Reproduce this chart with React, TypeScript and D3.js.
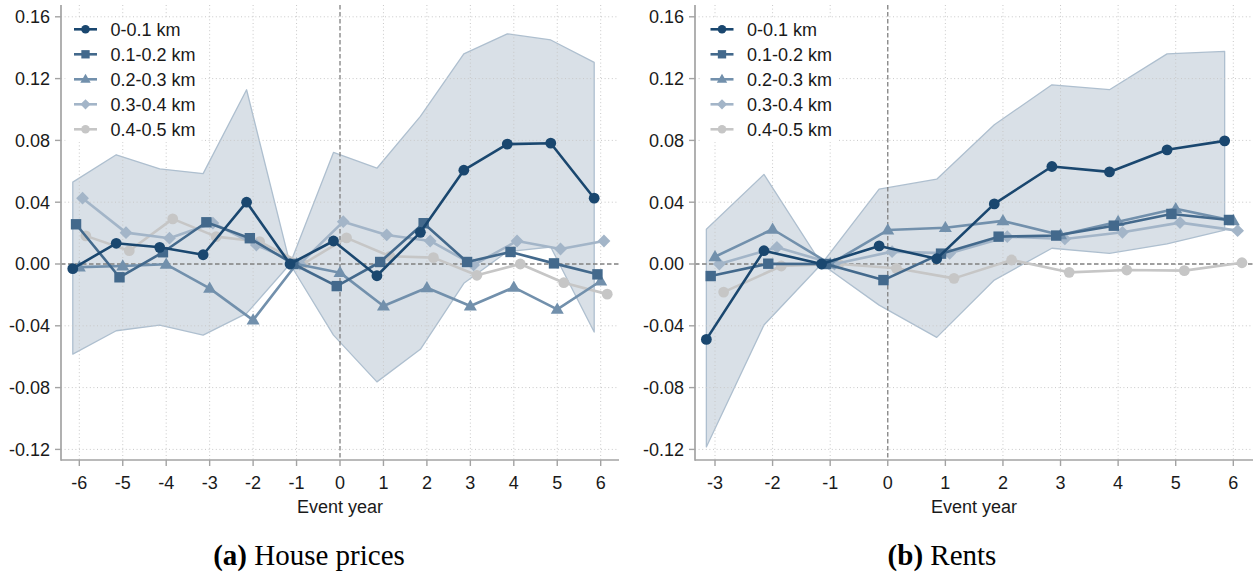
import React from "react";
import * as d3 from "d3";

// ---------------- DATA ----------------
const seriesNames = ["0-0.1 km", "0.1-0.2 km", "0.2-0.3 km", "0.3-0.4 km", "0.4-0.5 km"];

// (a) House prices
const houseYears = [-6, -5, -4, -3, -2, -1, 0, 1, 2, 3, 4, 5, 6];
const house01 = [-0.003, 0.0134, 0.0108, 0.006, 0.04, 0, 0.0149, -0.0076, 0.0205, 0.0607, 0.0776, 0.0782, 0.0426];
const house12 = [0.0257, -0.0086, 0.0076, 0.027, 0.0167, 0, -0.0143, 0.0013, 0.0264, 0.0013, 0.0078, 0.0004, -0.0067];
const house23 = [-0.002, -0.0013, -0.0002, -0.0158, -0.0363, 0, -0.0056, -0.0272, -0.0154, -0.0272, -0.0151, -0.0294, -0.011];
const house34 = [0.0426, 0.0203, 0.0167, 0.0265, 0.0123, 0, 0.0274, 0.0188, 0.0149, -0.0006, 0.0149, 0.0097, 0.0149];
const house45 = [0.0182, 0.0086, 0.0292, 0.0177, 0.0145, 0, 0.0169, 0.005, 0.0041, -0.0073, 0, -0.0121, -0.0195];
const houseUpper = [0.053, 0.0707, 0.0616, 0.0585, 0.1128, 0, 0.0722, 0.062, 0.0955, 0.136, 0.149, 0.145, 0.1305];
const houseLower = [-0.0583, -0.0432, -0.0396, -0.046, -0.032, 0, -0.046, -0.0763, -0.0552, -0.0125, 0.008, 0.011, -0.044];
const houseXTickLabels = ["-6", "-5", "-4", "-3", "-2", "-1", "0", "1", "2", "3", "4", "5", "6"];

// (b) Rents
const rentYears = [-3, -2, -1, 0, 1, 2, 3, 4, 5, 6];
const rent01 = [-0.0488, 0.0086, 0, 0.0117, 0.0034, 0.0389, 0.0631, 0.0596, 0.0739, 0.0797];
const rent12 = [-0.0078, 0.0002, 0, -0.0104, 0.0067, 0.0177, 0.0184, 0.0248, 0.0324, 0.0285];
const rent23 = [0.0047, 0.0225, 0, 0.022, 0.0235, 0.0279, 0.0188, 0.0274, 0.0357, 0.0279];
const rent34 = [0.0, 0.0108, 0, 0.008, 0.0069, 0.0177, 0.0162, 0.0205, 0.0268, 0.0216];
const rent45 = [-0.0182, -0.0013, 0, -0.0028, -0.0093, 0.0026, -0.0054, -0.0039, -0.0043, 0.0008];
const rentUpper = [0.0225, 0.058, 0, 0.0484, 0.0549, 0.0901, 0.116, 0.1128, 0.136, 0.1376];
const rentLower = [-0.1184, -0.0395, 0, -0.0266, -0.0475, -0.0104, 0.0102, 0.0069, 0.013, 0.022];
const rentXTickLabels = ["-3", "-2", "-1", "0", "1", "2", "3", "4", "5", "6"];

const yTicks = [-0.12, -0.08, -0.04, 0, 0.04, 0.08, 0.12, 0.16];
const yTickLabels = ["-0.12", "-0.08", "-0.04", "0.00", "0.04", "0.08", "0.12", "0.16"];

const xAxisTitle = "Event year";

// ---------------- STYLE ----------------
const colors = ["#1a476f", "#43698c", "#7290ac", "#a3b5c8", "#c6c6c6"];
const shapes = ["circle", "square", "triangle", "diamond", "circle"];
const jitter = [-0.15, -0.075, 0, 0.075, 0.15];
const FONT = "'Liberation Sans', Arial, Helvetica, sans-serif";
const AXIS_COLOR = "#a3a3a3";
const GRID_COLOR = "#c8c8c8";

type Shape = string;

function Marker({ shape, x, y, color, scale = 1 }: { shape: Shape; x: number; y: number; color: string; scale?: number }) {
  if (shape === "circle") return <circle cx={x} cy={y} r={5.4 * scale} fill={color} />;
  if (shape === "square") {
    const s = 10.4 * scale;
    return <rect x={x - s / 2} y={y - s / 2} width={s} height={s} fill={color} />;
  }
  if (shape === "triangle") {
    const w = 6.5 * scale;
    return <path d={`M${x},${y - 6.8 * scale}L${x + w},${y + 4.4 * scale}L${x - w},${y + 4.4 * scale}Z`} fill={color} />;
  }
  const d = 6.4 * scale;
  return <path d={`M${x},${y - d}L${x + d},${y}L${x},${y + d}L${x - d},${y}Z`} fill={color} />;
}

interface PanelProps {
  years: number[];
  series: number[][];
  upper: number[];
  lower: number[];
  xTickLabels: string[];
  axisLeft: number;
  axisRight: number;
  xRange: [number, number];
  legendX: number;
  caption: [string, string];
  captionX: number;
}

const Y_TOP = 5;
const Y_AXIS = 460;
const yScale = d3.scaleLinear().domain([-0.12, 0.16]).range([449.4, 16.8]);

function Panel(p: PanelProps) {
  const x = d3.scaleLinear().domain([p.years[0], p.years[p.years.length - 1]]).range(p.xRange);
  const bandOffset = jitter[0];
  const bandData = p.years.map((yr, i) => ({ yr, lo: p.lower[i], hi: p.upper[i] }));
  const area = d3
    .area<{ yr: number; lo: number; hi: number }>()
    .x((d) => x(d.yr + bandOffset))
    .y0((d) => yScale(d.lo))
    .y1((d) => yScale(d.hi));
  const bandPath = area(bandData) as string;

  const line = d3
    .line<{ xv: number; yv: number }>()
    .x((d) => x(d.xv))
    .y((d) => yScale(d.yv));

  const order = [4, 3, 2, 1, 0];
  const midX = (p.axisLeft + p.axisRight) / 2;

  return (
    <g>
      {/* confidence band */}
      <path d={bandPath} fill="#d9e0e7" stroke="#aebfcf" strokeWidth={1.3} strokeLinejoin="round" />

      {/* grid */}
      {yTicks.map((t) =>
        t === 0 ? null : (
          <line key={"gy" + t} x1={p.axisLeft} x2={p.axisRight} y1={yScale(t)} y2={yScale(t)} stroke={GRID_COLOR} strokeWidth={1} strokeDasharray="1 2.6" />
        )
      )}
      {p.years.map((t) =>
        t === 0 ? null : (
          <line key={"gx" + t} x1={x(t)} x2={x(t)} y1={Y_TOP} y2={Y_AXIS} stroke={GRID_COLOR} strokeWidth={1} strokeDasharray="1 2.6" />
        )
      )}
      {/* zero reference lines */}
      <line x1={p.axisLeft} x2={p.axisRight} y1={yScale(0)} y2={yScale(0)} stroke="#808080" strokeWidth={1.3} strokeDasharray="4.5 2.5" />
      <line x1={x(0)} x2={x(0)} y1={Y_TOP} y2={Y_AXIS} stroke="#808080" strokeWidth={1.3} strokeDasharray="4.5 2.5" />

      {/* series */}
      {order.map((si) => {
        const pts = p.years.map((yr, i) => ({ xv: yr + jitter[si], yv: p.series[si][i] }));
        return (
          <g key={"s" + si}>
            <path d={line(pts) as string} fill="none" stroke={colors[si]} strokeWidth={2.6} strokeLinejoin="round" />
            {pts.map((d, i) => (
              <Marker key={i} shape={shapes[si]} x={x(d.xv)} y={yScale(d.yv)} color={colors[si]} />
            ))}
          </g>
        );
      })}

      {/* axes */}
      <line x1={p.axisLeft} x2={p.axisLeft} y1={Y_TOP} y2={Y_AXIS + 0.8} stroke={AXIS_COLOR} strokeWidth={1.7} />
      <line x1={p.axisLeft} x2={p.axisRight} y1={Y_AXIS} y2={Y_AXIS} stroke={AXIS_COLOR} strokeWidth={1.7} />
      {yTicks.map((t, i) => (
        <g key={"yt" + t}>
          <line x1={p.axisLeft - 6} x2={p.axisLeft} y1={yScale(t)} y2={yScale(t)} stroke={AXIS_COLOR} strokeWidth={1.4} />
          <text x={p.axisLeft - 11} y={yScale(t)} dy="0.35em" textAnchor="end" fontFamily={FONT} fontSize={18} fill="#1a1a1a">
            {yTickLabels[i]}
          </text>
        </g>
      ))}
      {p.years.map((t, i) => (
        <g key={"xt" + t}>
          <line x1={x(t)} x2={x(t)} y1={Y_AXIS} y2={Y_AXIS + 6} stroke={AXIS_COLOR} strokeWidth={1.4} />
          <text x={x(t)} y={489} textAnchor="middle" fontFamily={FONT} fontSize={18} fill="#1a1a1a">
            {p.xTickLabels[i]}
          </text>
        </g>
      ))}
      <text x={midX} y={513} textAnchor="middle" fontFamily={FONT} fontSize={18} fill="#1a1a1a">
        {xAxisTitle}
      </text>

      {/* legend */}
      <rect x={p.legendX - 20} y={18} width={136} height={124} fill="#ffffff" />
      {seriesNames.map((name, i) => {
        const ly = 29.3 + i * 25;
        return (
          <g key={"lg" + i}>
            <line x1={p.legendX - 11.5} x2={p.legendX + 11.5} y1={ly} y2={ly} stroke={colors[i]} strokeWidth={2.6} />
            <Marker shape={shapes[i]} x={p.legendX} y={ly} color={colors[i]} scale={0.8} />
            <text x={p.legendX + 25} y={ly} dy="0.35em" fontFamily={FONT} fontSize={18} fill="#1a1a1a">
              {name}
            </text>
          </g>
        );
      })}

      {/* caption */}
      <text x={p.captionX} y={565} textAnchor="middle" fontFamily="'Liberation Serif', 'Times New Roman', serif" fontSize={29} fill="#000">
        <tspan fontWeight="bold">{p.caption[0]}</tspan>
        <tspan>{p.caption[1]}</tspan>
      </text>
    </g>
  );
}

export default function App() {
  return (
    <svg
      width={1257}
      height={573}
      viewBox="0 0 1257 573"
      style={{ position: "absolute", left: 0, top: 0, background: "#fff" }}
    >
      <rect width={1257} height={573} fill="#fff" />
      <Panel
        years={houseYears}
        series={[house01, house12, house23, house34, house45]}
        upper={houseUpper}
        lower={houseLower}
        xTickLabels={houseXTickLabels}
        axisLeft={61}
        axisRight={619}
        xRange={[79.3, 600.7]}
        legendX={85.5}
        caption={["(a)", " House prices"]}
        captionX={309}
      />
      <Panel
        years={rentYears}
        series={[rent01, rent12, rent23, rent34, rent45]}
        upper={rentUpper}
        lower={rentLower}
        xTickLabels={rentXTickLabels}
        axisLeft={695}
        axisRight={1253}
        xRange={[715, 1233.3]}
        legendX={722}
        caption={["(b)", " Rents"]}
        captionX={942}
      />
    </svg>
  );
}
